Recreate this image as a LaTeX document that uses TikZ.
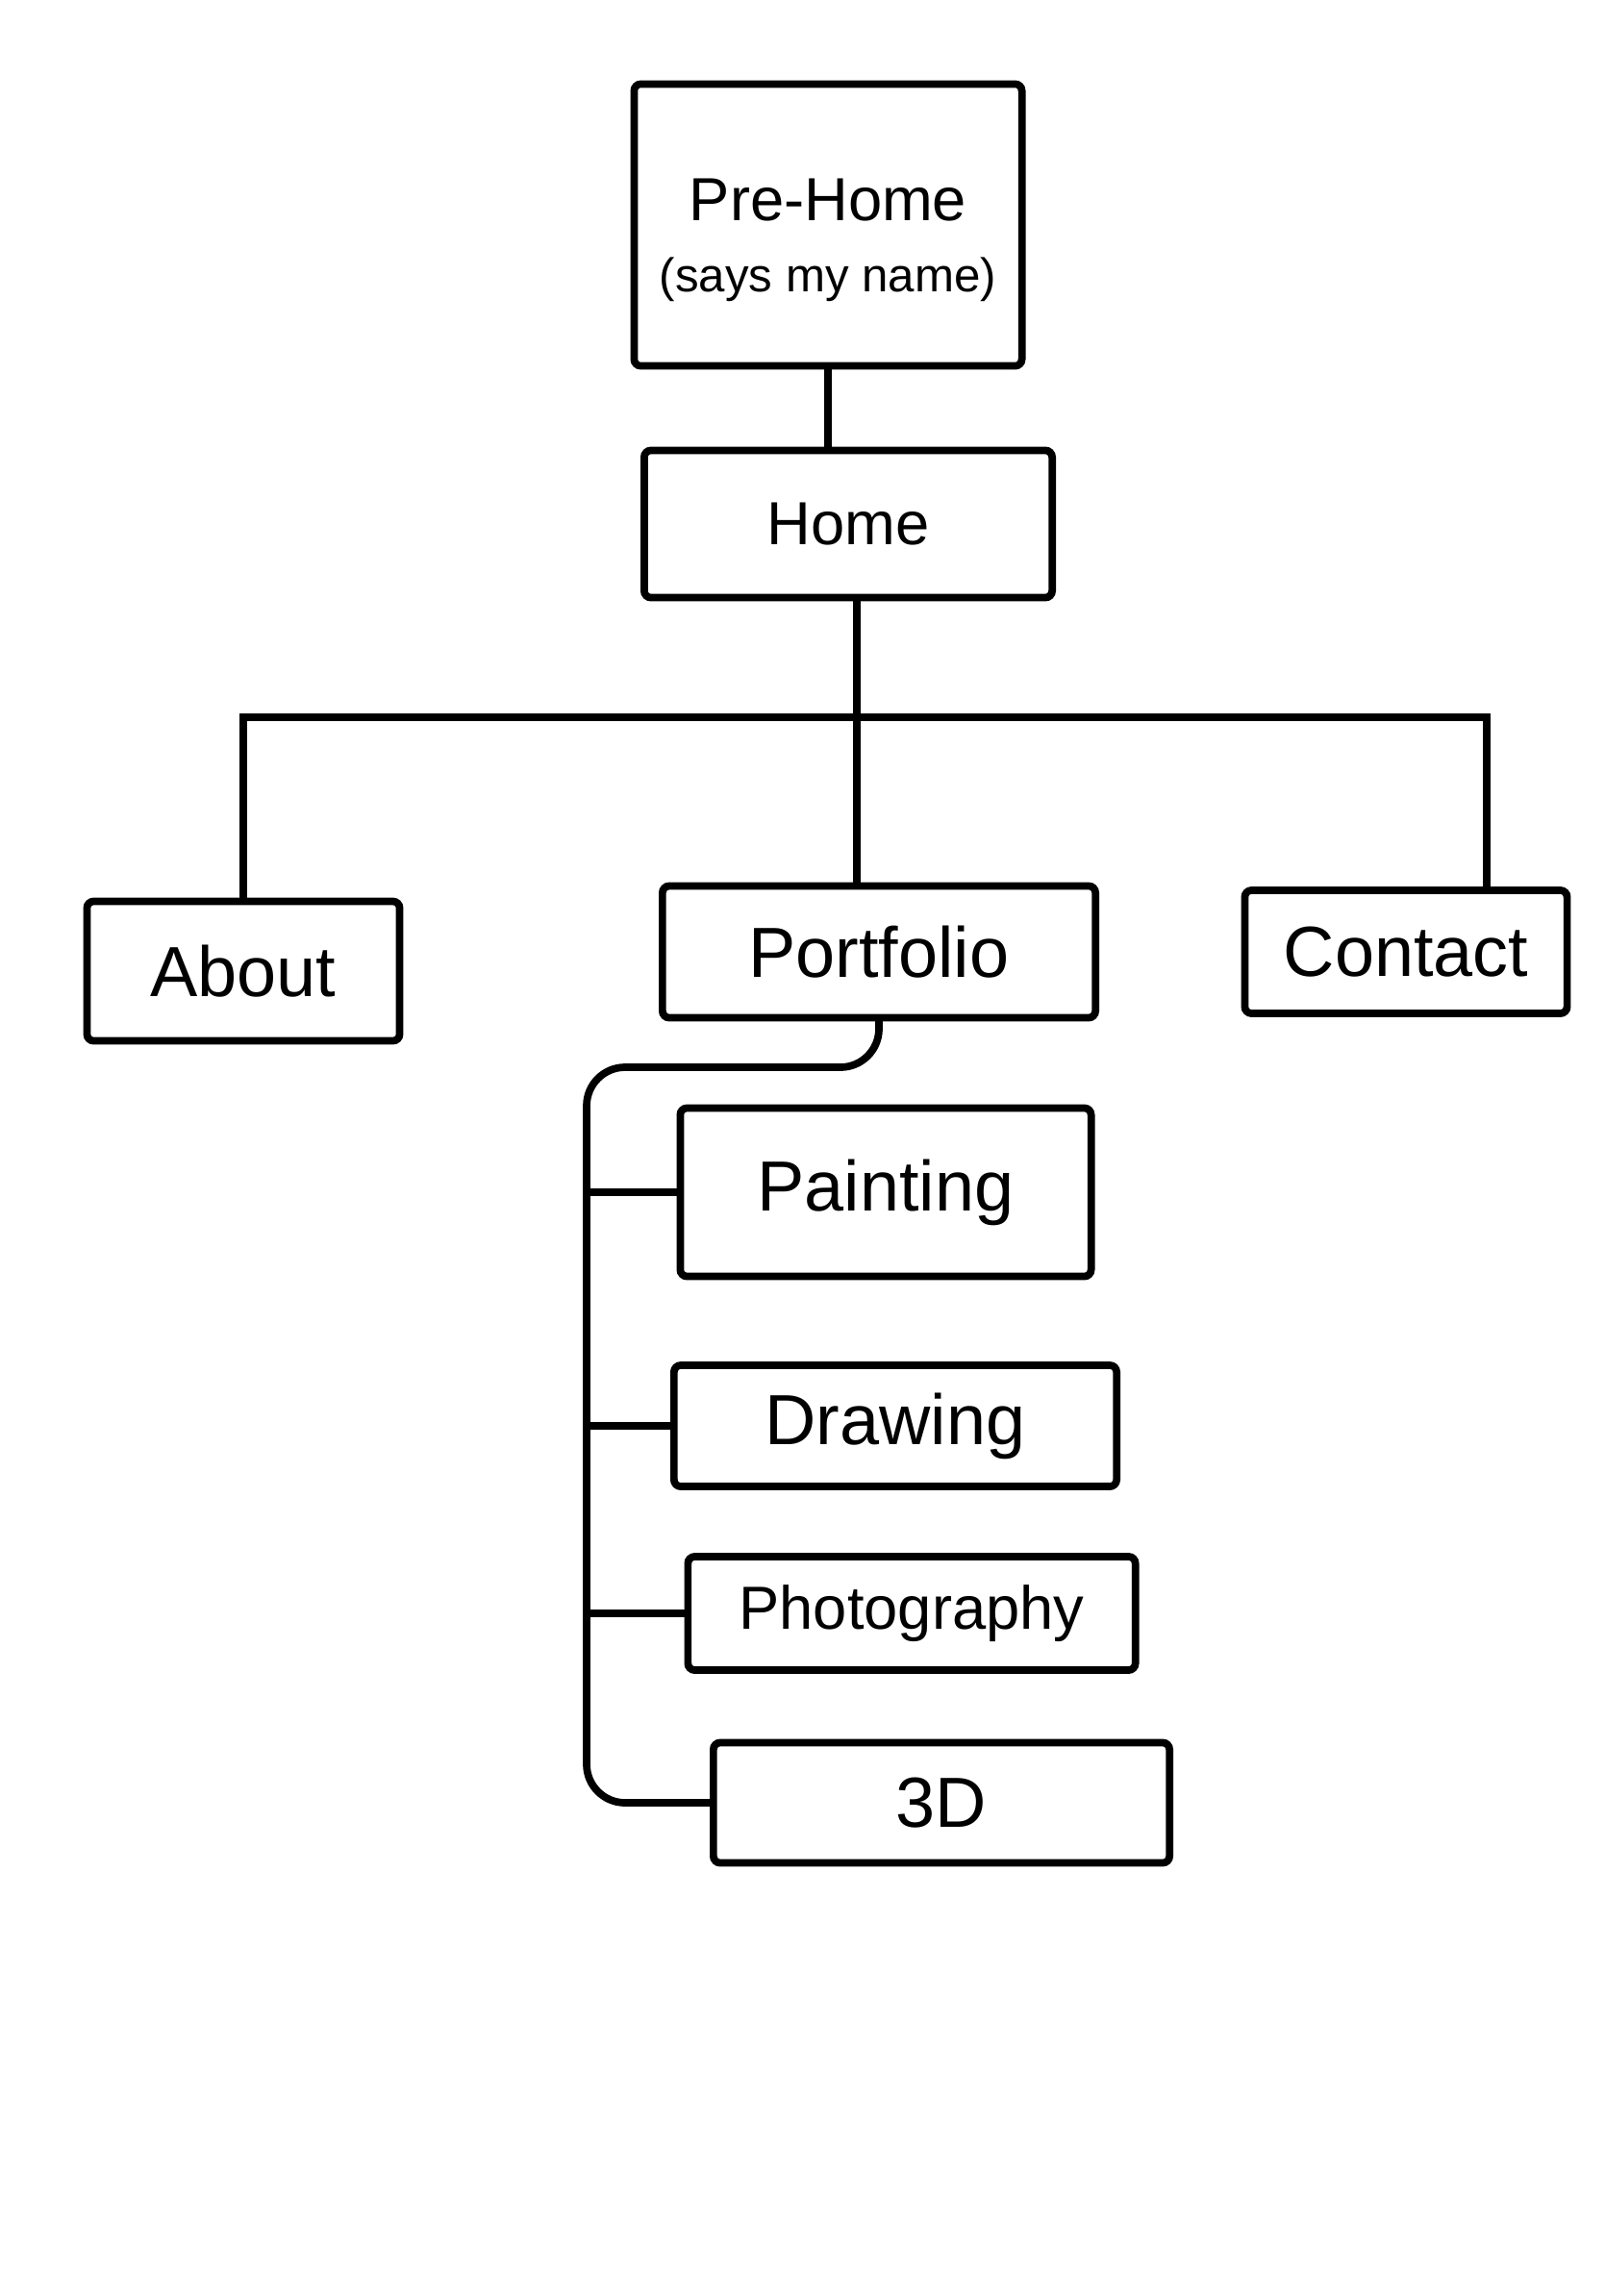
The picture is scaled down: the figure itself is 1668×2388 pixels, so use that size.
\documentclass[tikz,border=0pt]{standalone}
\usepackage{fontspec}
\setmainfont{Liberation Sans}
\usetikzlibrary{positioning}

\begin{document}
\begin{tikzpicture}[x=0.01cm,y=-0.01cm,line width=2.2pt,
    page/.style={draw,rounded corners=2pt,inner sep=0pt,font=\fontsize{21}{25}\selectfont},
    small/.style={font=\fontsize{18}{22}\selectfont},
    link/.style={draw,line cap=round}]

\useasboundingbox (0,0) rectangle (1668,2388);

\node[page,small,minimum width=4.03cm,minimum height=2.93cm] (prehome) at (861,234)
    {\raisebox{-0.32cm}[0pt][0pt]{\begin{tabular}{@{}c@{}}Pre-Home\\[-1pt]
     {\fontsize{14}{17}\selectfont (says my name)}\end{tabular}}};
\node[page,small,minimum width=4.24cm,minimum height=1.53cm] (home) at (882,545) {Home};
\node[page,minimum width=3.25cm,minimum height=1.45cm] (about)     at (253,1010) {About};
\node[page,minimum width=4.50cm,minimum height=1.37cm] (portfolio) at (914,990)  {Portfolio};
\node[page,minimum width=3.35cm,minimum height=1.28cm] (contact)   at (1462,990) {Contact};

\node[page,minimum width=4.27cm,minimum height=1.75cm] (painting)    at (921,1240) {Painting};
\node[page,minimum width=4.60cm,minimum height=1.26cm] (drawing)     at (931,1483) {Drawing};
\node[page,small,minimum width=4.65cm,minimum height=1.18cm] (photography) at (948,1678) {Photography};
\node[page,minimum width=4.74cm,minimum height=1.25cm] (threed)      at (979,1875) {3D};

\coordinate (hub)   at (891,746);
\coordinate (spine) at (610,1110);

\path[link]
    (prehome.south) edge (prehome.south |- home.north)
    (hub |- home.south) edge (hub |- portfolio.north);
\draw[link] (about.north) |- (hub) -| ([xshift=0.84cm]contact.north);

\draw[link,rounded corners=0.4cm] (portfolio.south) |- (spine) |- (threed.west);
\path[link]
    (spine |- painting.west)    edge (painting.west)
    (spine |- drawing.west)     edge (drawing.west)
    (spine |- photography.west) edge (photography.west);
\end{tikzpicture}
\end{document}
